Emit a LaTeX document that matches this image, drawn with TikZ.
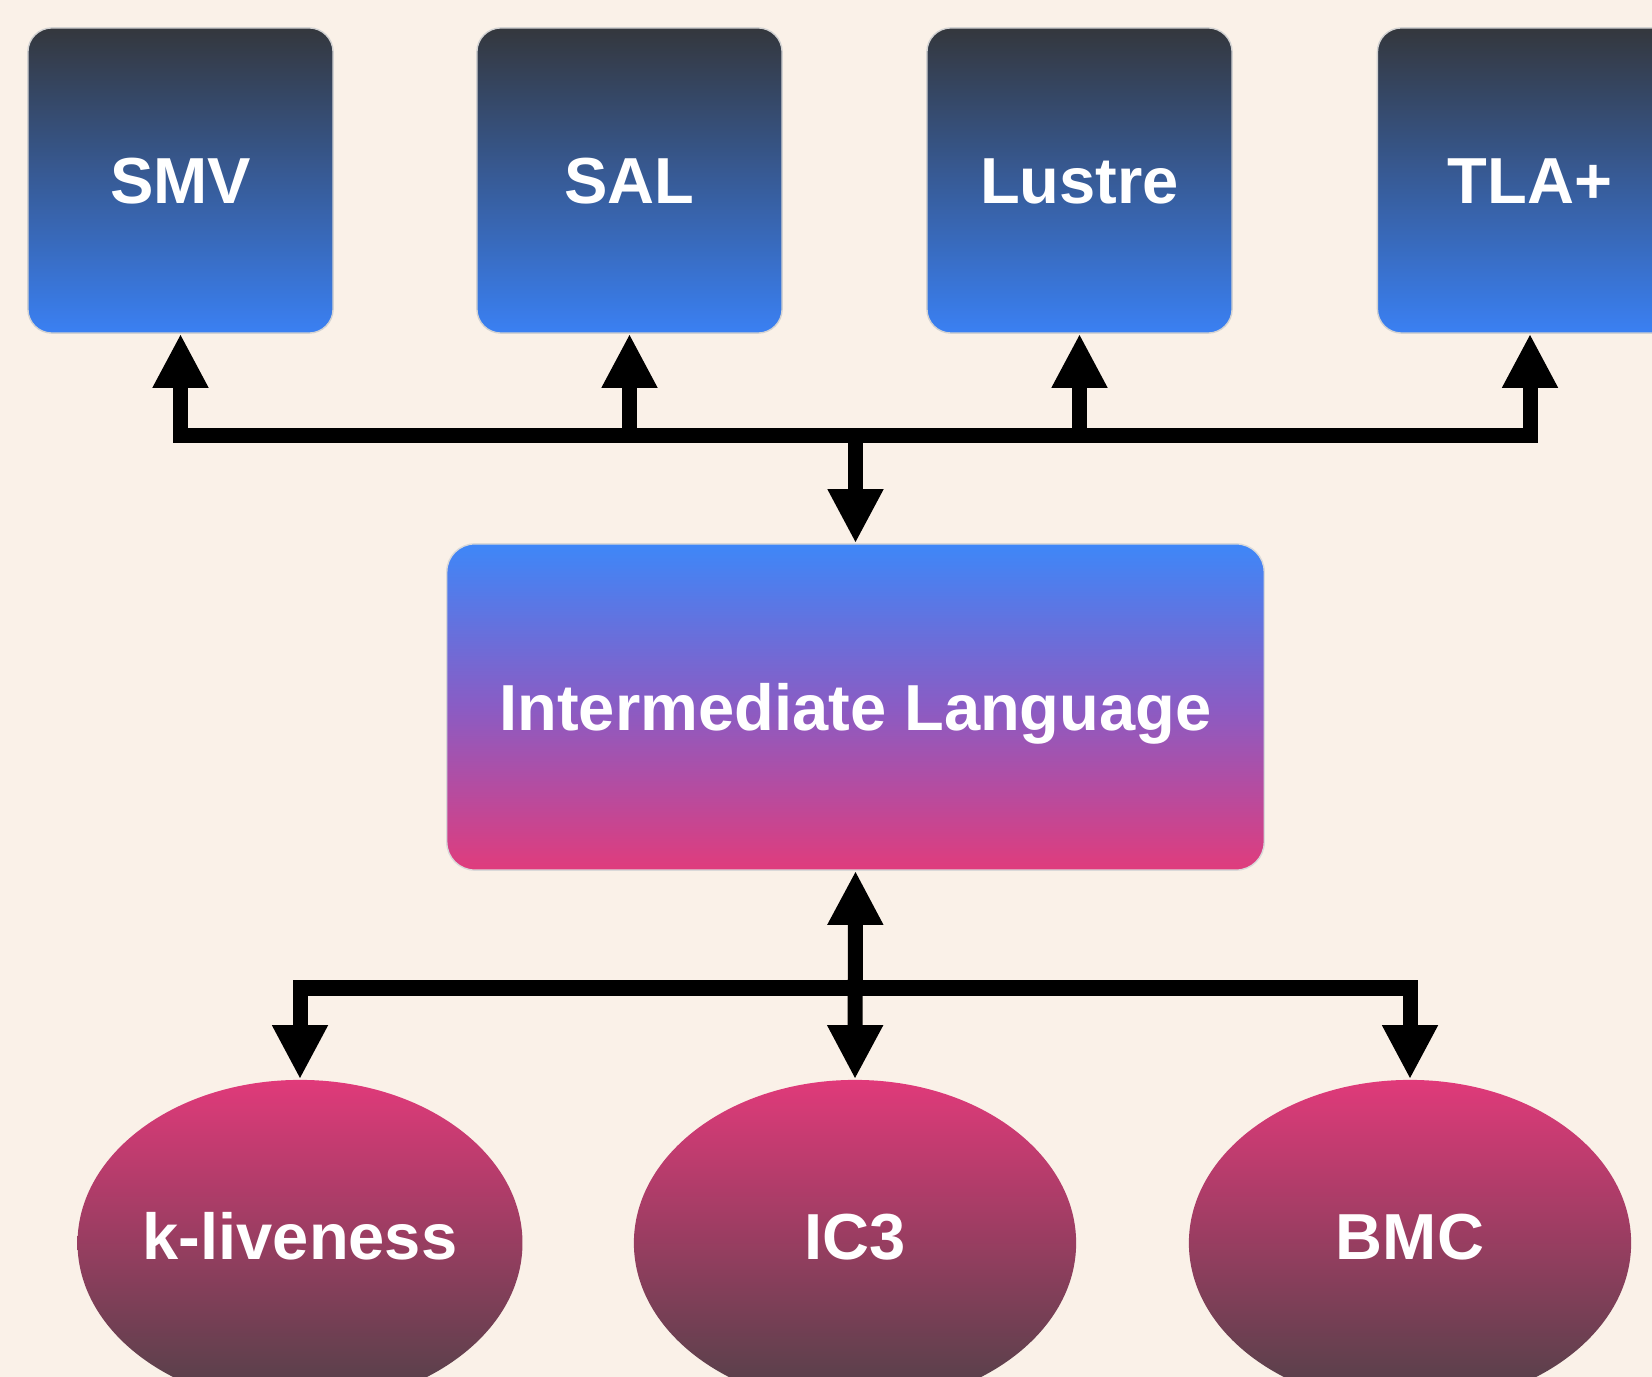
\documentclass[tikz,border=0pt]{standalone}
\usepackage{fontspec}
\setmainfont{Liberation Sans}
\usetikzlibrary{shapes.geometric,arrows.meta}
\definecolor{bgc}{HTML}{FAF1E8}
\definecolor{boxtop}{HTML}{34373D}
\definecolor{boxbot}{HTML}{3A80F3}
\definecolor{iltop}{HTML}{3E87F8}
\definecolor{ilmid}{HTML}{8A5CC4}
\definecolor{ilbot}{HTML}{E03C7C}
\definecolor{eltop}{HTML}{E03A7A}
\definecolor{elbot}{HTML}{4F4147}
\tikzset{
  lbl/.style={text=white, font=\bfseries\fontsize{18.5}{22}\selectfont, text height=13.2pt, text depth=0pt},
  srcbox/.style={lbl, rectangle, rounded corners=0.24cm, minimum width=3.05cm, minimum height=3.05cm, inner sep=0pt, top color=boxtop, bottom color=boxbot, draw=gray!35, line width=0.4pt},
  ilbox/.style={lbl, rectangle, rounded corners=0.28cm, minimum width=8.17cm, minimum height=3.26cm, inner sep=0pt, top color=iltop, bottom color=ilbot, middle color=ilmid, draw=gray!30, line width=0.4pt},
  engine/.style={lbl, text depth=4pt, ellipse, minimum width=4.42cm, minimum height=3.26cm, inner sep=0pt, top color=eltop, bottom color=elbot},
  conn/.style={line width=0.15cm, black},
  tipped/.style={conn, -{Triangle[length=0.54cm, width=0.52cm]}},
  tippedboth/.style={conn, {Triangle[length=0.54cm, width=0.52cm]}-{Triangle[length=0.54cm, width=0.52cm]}}
}
\begin{document}
\begin{tikzpicture}[x=0.01cm, y=-0.01cm]
\useasboundingbox (0,0) rectangle (1652,1377);
\clip (0,0) rectangle (1652,1377);
\fill[bgc] (0,0) rectangle (1652,1377);

\node[srcbox] (smv) at (180.5,180.5) {SMV};
\node[srcbox] (sal) at (629.5,180.5) {SAL};
\node[srcbox] (lustre) at (1079.5,180.5) {Lustre};
\node[srcbox] (tla) at (1530,180.5) {TLA+};

\node[ilbox] (il) at (855.5,707) {Intermediate Language};

\node[engine] (kl) at (300,1243) {k-liveness};
\node[engine] (ic3) at (855,1243) {IC3};
\node[engine] (bmc) at (1410,1243) {BMC};

\coordinate (bus) at (855.5,436);
\coordinate (bus2) at (855.5,988);

\draw[tipped] (bus) -| (smv.south);
\draw[tipped] (bus) -| (tla.south);
\draw[tipped] (sal.south |- bus) -- (sal.south);
\draw[tipped] (lustre.south |- bus) -- (lustre.south);
\draw[tipped] (bus) -- (il.north);

\draw[tipped] (bus2) -| (kl.north);
\draw[tipped] (bus2) -| (bmc.north);
\draw[tippedboth] (il.south) -- (ic3.north);
\end{tikzpicture}
\end{document}
